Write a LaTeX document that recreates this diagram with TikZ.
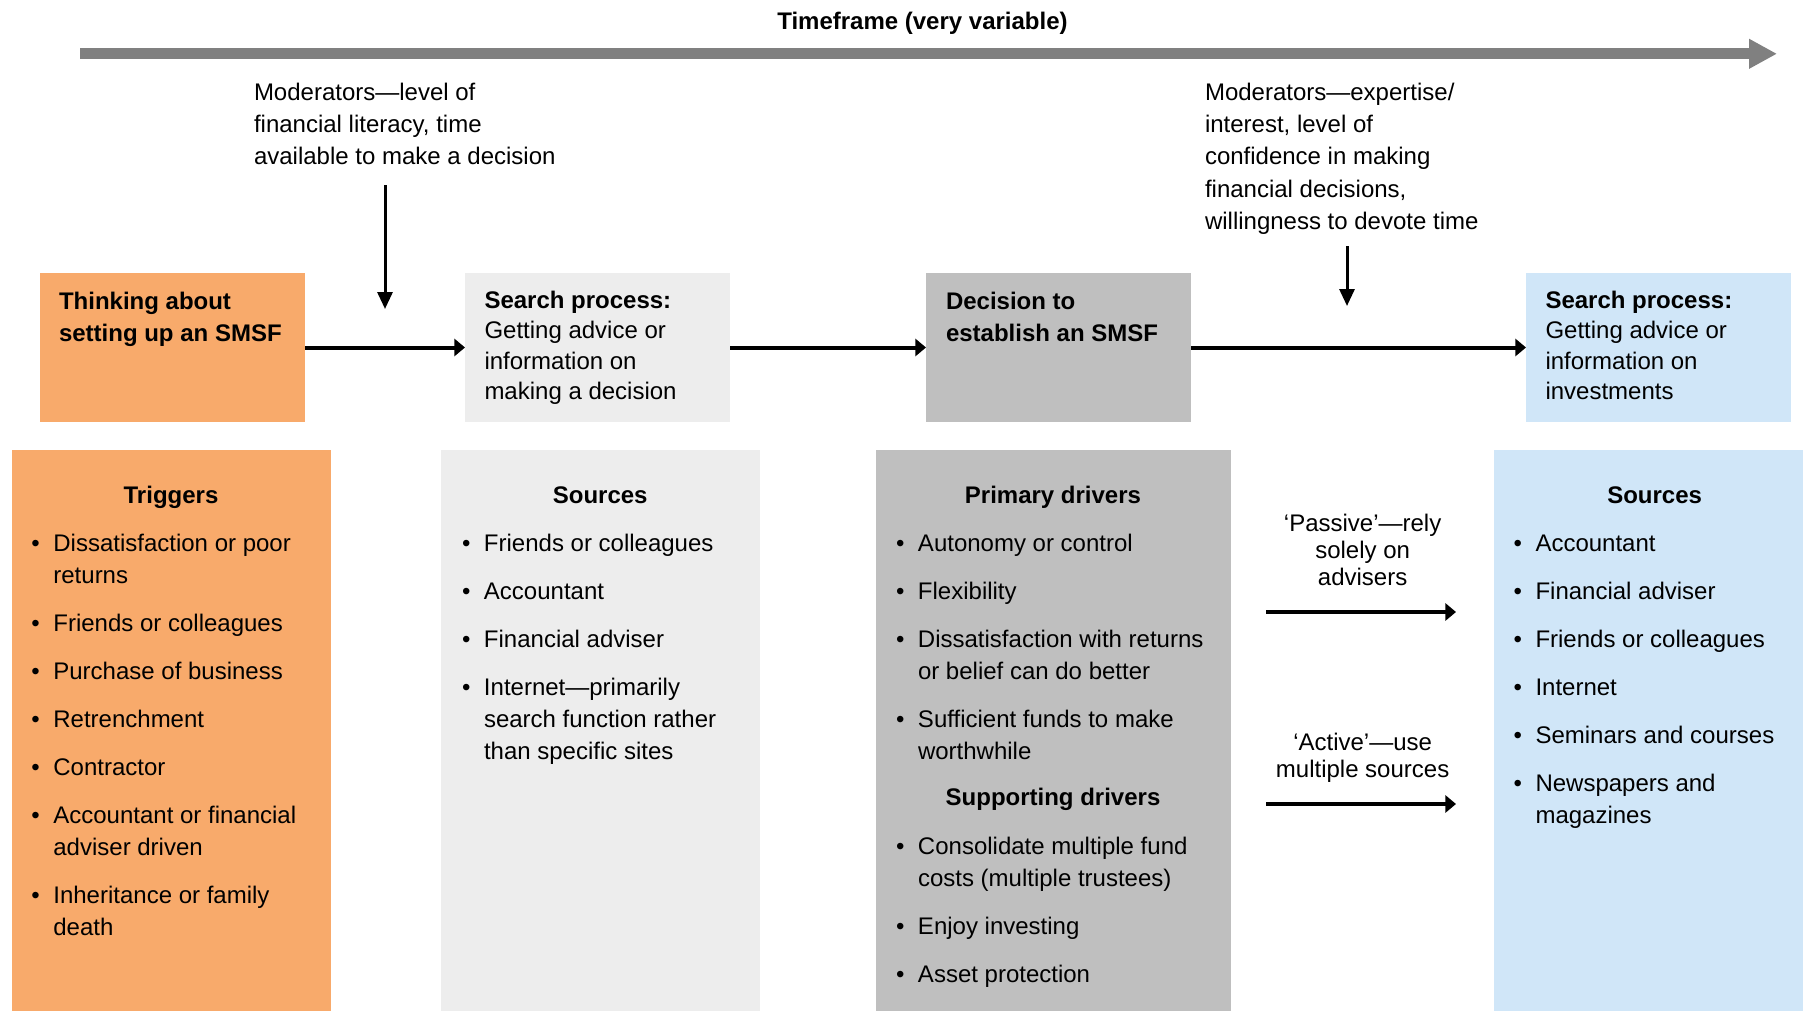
\documentclass[tikz,border=0pt]{standalone}
\usepackage{fontspec}
\setmainfont{Liberation Sans}
\usetikzlibrary{arrows.meta}
\definecolor{corange}{HTML}{F8AA6B}
\definecolor{clgray}{HTML}{EDEDED}
\definecolor{cgray}{HTML}{BFBFBF}
\definecolor{cblue}{HTML}{D0E6F8}
\definecolor{cline}{HTML}{808080}
\newcommand\bitem{\makebox[11pt][l]{\textbullet}}
\newcommand\bcont{\hspace*{11pt}}
\begin{document}
\begin{tikzpicture}[x=0.5pt,y=-0.5pt,
  every node/.style={inner sep=0pt,outer sep=0pt},
  stagebox/.style={anchor=north west,minimum height=74.5pt},
  panel/.style={anchor=north west,minimum height=280.5pt},
  txt/.style={anchor=base west,font=\fontsize{12}{16}\selectfont},
  txtc/.style={anchor=base,font=\fontsize{12}{16}\selectfont\bfseries},
  stxt/.style={anchor=base west,font=\fontsize{12}{15.25}\selectfont},
  harrow/.style={line width=2pt,-{Triangle[length=5.3pt,width=8.5pt]}},
  varrow/.style={line width=1.5pt,-{Triangle[length=8.5pt,width=7.5pt]}},
  timearrow/.style={draw=cline,line width=5.5pt,-{Triangle[length=14pt,width=14pt]}}]
\useasboundingbox[fill=white] (0,0) rectangle (1803,1011);

% timeline
\node[txtc] (title) at (922.5,30) {Timeframe (very variable)};
\coordinate (t0) at (80,53.8);
\coordinate (t1) at (1777,53.8);
\draw[timearrow] (t0) -- (t1);

% moderators
\node[txt] (mod1) at (254,101) {\begin{tabular}[t]{@{}l@{}}Moderators—level of\\financial literacy, time\\available to make a decision\end{tabular}};
\node[txt] (mod2) at (1205,101) {\begin{tabular}[t]{@{}l@{}}Moderators—expertise/\\interest, level of\\confidence in making\\financial decisions,\\willingness to devote time\end{tabular}};
\coordinate (v1a) at (385,185);
\coordinate (v1b) at (385,309);
\coordinate (v2a) at (1347,246);
\coordinate (v2b) at (1347,306);
\draw[varrow] (v1a) -- (v1b);
\draw[varrow] (v2a) -- (v2b);

% stage boxes
\node[stagebox,fill=corange,minimum width=132.5pt] (think) at (40,273) {};
\node[stagebox,fill=clgray,minimum width=132.5pt] (search1) at (465,273) {};
\node[stagebox,fill=cgray,minimum width=132.5pt] (decide) at (926,273) {};
\node[stagebox,fill=cblue,minimum width=132.5pt] (search2) at (1526,273) {};

\node[txt,font=\fontsize{12}{16}\selectfont\bfseries] (thinkt) at (59,309) {\begin{tabular}[t]{@{}l@{}}Thinking about\\setting up an SMSF\end{tabular}};
\node[stxt] (search1t) at (484.5,308.3) {\begin{tabular}[t]{@{}l@{}}\textbf{Search process:}\\Getting advice or\\information on\\making a decision\end{tabular}};
\node[txt,font=\fontsize{12}{16}\selectfont\bfseries] (decidet) at (946,309) {\begin{tabular}[t]{@{}l@{}}Decision to\\establish an SMSF\end{tabular}};
\node[stxt] (search2t) at (1545.5,308.3) {\begin{tabular}[t]{@{}l@{}}\textbf{Search process:}\\Getting advice or\\information on\\investments\end{tabular}};

\draw[harrow] (think.east) -- (search1.west);
\draw[harrow] (search1.east) -- (decide.west);
\draw[harrow] (decide.east) -- (search2.west);

% panels
\node[panel,fill=corange,minimum width=159.75pt] (trig) at (11.5,450) {};
\node[panel,fill=clgray,minimum width=159.25pt] (src1) at (441,450) {};
\node[panel,fill=cgray,minimum width=177.5pt] (drv) at (875.5,450) {};
\node[panel,fill=cblue,minimum width=154.5pt] (src2) at (1494,450) {};

\node[txtc] (trigh) at (171,503) {Triggers};
\node[txt] (trigl) at (31.4,551.5) {\begin{tabular}[t]{@{}l@{}}
\bitem Dissatisfaction or poor\\
\bcont returns\\[8pt]
\bitem Friends or colleagues\\[8pt]
\bitem Purchase of business\\[8pt]
\bitem Retrenchment\\[8pt]
\bitem Contractor\\[8pt]
\bitem Accountant or financial\\
\bcont adviser driven\\[8pt]
\bitem Inheritance or family\\
\bcont death
\end{tabular}};

\node[txtc] (src1h) at (600.2,503) {Sources};
\node[txt] (src1l) at (462,551.5) {\begin{tabular}[t]{@{}l@{}}
\bitem Friends or colleagues\\[8pt]
\bitem Accountant\\[8pt]
\bitem Financial adviser\\[8pt]
\bitem Internet—primarily\\
\bcont search function rather\\
\bcont than specific sites
\end{tabular}};

\node[txtc] (drvh) at (1053,503) {Primary drivers};
\node[txt] (drvl) at (896,551.5) {\begin{tabular}[t]{@{}l@{}}
\bitem Autonomy or control\\[8pt]
\bitem Flexibility\\[8pt]
\bitem Dissatisfaction with returns\\
\bcont or belief can do better\\[8pt]
\bitem Sufficient funds to make\\
\bcont worthwhile
\end{tabular}};
\node[txtc] (suph) at (1053,805.5) {Supporting drivers};
\node[txt] (supl) at (896,854.5) {\begin{tabular}[t]{@{}l@{}}
\bitem Consolidate multiple fund\\
\bcont costs (multiple trustees)\\[8pt]
\bitem Enjoy investing\\[8pt]
\bitem Asset protection
\end{tabular}};

\node[txtc] (src2h) at (1654.6,503) {Sources};
\node[txt] (src2l) at (1513.5,551.5) {\begin{tabular}[t]{@{}l@{}}
\bitem Accountant\\[8pt]
\bitem Financial adviser\\[8pt]
\bitem Friends or colleagues\\[8pt]
\bitem Internet\\[8pt]
\bitem Seminars and courses\\[8pt]
\bitem Newspapers and\\
\bcont magazines
\end{tabular}};

% passive / active
\node[anchor=base,font=\fontsize{12}{13.5}\selectfont] (passive) at (1362.6,531.5) {\begin{tabular}[t]{@{}c@{}}‘Passive’—rely\\solely on\\advisers\end{tabular}};
\node[anchor=base,font=\fontsize{12}{13.5}\selectfont] (active) at (1362.6,750.5) {\begin{tabular}[t]{@{}c@{}}‘Active’—use\\multiple sources\end{tabular}};
\coordinate (p1a) at (1266,612);
\coordinate (p1b) at (1456,612);
\coordinate (a1a) at (1266,804);
\coordinate (a1b) at (1456,804);
\draw[harrow] (p1a) -- (p1b);
\draw[harrow] (a1a) -- (a1b);
\end{tikzpicture}
\end{document}
